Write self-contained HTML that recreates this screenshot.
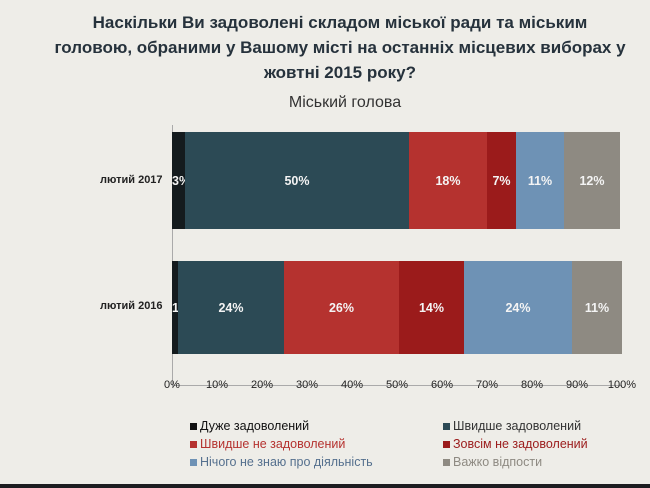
<!DOCTYPE html>
<html><head><meta charset="utf-8"><style>
body{margin:0;width:650px;height:488px;overflow:hidden;background:#eeede8;font-family:"Liberation Sans","DejaVu Sans",sans-serif;position:relative}
.t{position:absolute;left:40px;width:600px;text-align:center;font-weight:bold;font-size:17px;line-height:25px;color:#26323c;top:10px;white-space:nowrap}
.s{position:absolute;left:0;width:690px;text-align:center;top:94px;font-size:16px;color:#333}
.seg{position:absolute;color:#f4f4f4;font-size:12.5px;font-weight:bold;display:flex;align-items:center;justify-content:center}
.lab{position:absolute;font-size:11px;font-weight:bold;color:#222}
.tk{position:absolute;top:379px;font-size:11px;color:#222;width:40px;text-align:center}
.lg{position:absolute;font-size:12.5px}
.lg i{display:inline-block;width:7px;height:7px;margin-right:3px}
</style></head><body>
<div class="t">Наскільки Ви задоволені складом міської ради та міським<br>головою, обраними у Вашому місті на останніх місцевих виборах у<br>жовтні 2015 року?</div>
<div class="s">Міський голова</div>
<div style="position:absolute;left:172px;top:125px;width:1px;height:262px;background:#aaa"></div>
<div style="position:absolute;left:172px;top:385px;width:450px;height:1px;background:#aaa"></div>
<div class="lab" style="left:100px;top:174px">лютий 2017</div>
<div class="lab" style="left:100px;top:300px">лютий 2016</div>

<div class="seg" style="left:172px;top:132px;width:13px;height:97px;background:#141b1e;justify-content:flex-start;overflow:visible;white-space:nowrap">3%</div>
<div class="seg" style="left:185px;top:132px;width:224px;height:97px;background:#2c4a55">50%</div>
<div class="seg" style="left:409px;top:132px;width:78px;height:97px;background:#b5322f">18%</div>
<div class="seg" style="left:487px;top:132px;width:29px;height:97px;background:#9b1b1b">7%</div>
<div class="seg" style="left:516px;top:132px;width:48px;height:97px;background:#6e92b5">11%</div>
<div class="seg" style="left:564px;top:132px;width:56px;height:97px;background:#8e8a82">12%</div>

<div class="seg" style="left:172px;top:261px;width:6px;height:93px;background:#141b1e;justify-content:flex-start;white-space:nowrap">1%</div>
<div class="seg" style="left:178px;top:261px;width:106px;height:93px;background:#2c4a55">24%</div>
<div class="seg" style="left:284px;top:261px;width:115px;height:93px;background:#b5322f">26%</div>
<div class="seg" style="left:399px;top:261px;width:65px;height:93px;background:#9b1b1b">14%</div>
<div class="seg" style="left:464px;top:261px;width:108px;height:93px;background:#6e92b5">24%</div>
<div class="seg" style="left:572px;top:261px;width:50px;height:93px;background:#8e8a82">11%</div>

<div class="tk" style="left:152px">0%</div><div class="tk" style="left:197px">10%</div><div class="tk" style="left:242px">20%</div><div class="tk" style="left:287px">30%</div><div class="tk" style="left:332px">40%</div><div class="tk" style="left:377px">50%</div><div class="tk" style="left:422px">60%</div><div class="tk" style="left:467px">70%</div><div class="tk" style="left:512px">80%</div><div class="tk" style="left:557px">90%</div><div class="tk" style="left:602px">100%</div>

<div class="lg" style="left:190px;top:419px;color:#111"><i style="background:#111"></i>Дуже задоволений</div>
<div class="lg" style="left:190px;top:437px;color:#b5322f"><i style="background:#b5322f"></i>Швидше не задоволений</div>
<div class="lg" style="left:190px;top:455px;color:#55708e"><i style="background:#6e92b5"></i>Нічого не знаю про діяльність</div>
<div class="lg" style="left:443px;top:419px;color:#333"><i style="background:#2c4a55"></i>Швидше задоволений</div>
<div class="lg" style="left:443px;top:437px;color:#9b1b1b"><i style="background:#9b1b1b"></i>Зовсім не задоволений</div>
<div class="lg" style="left:443px;top:455px;color:#8e8a82"><i style="background:#8e8a82"></i>Важко відпости</div>
<div style="position:absolute;left:0;top:484px;width:650px;height:4px;background:#1c1c20"></div>
</body></html>
